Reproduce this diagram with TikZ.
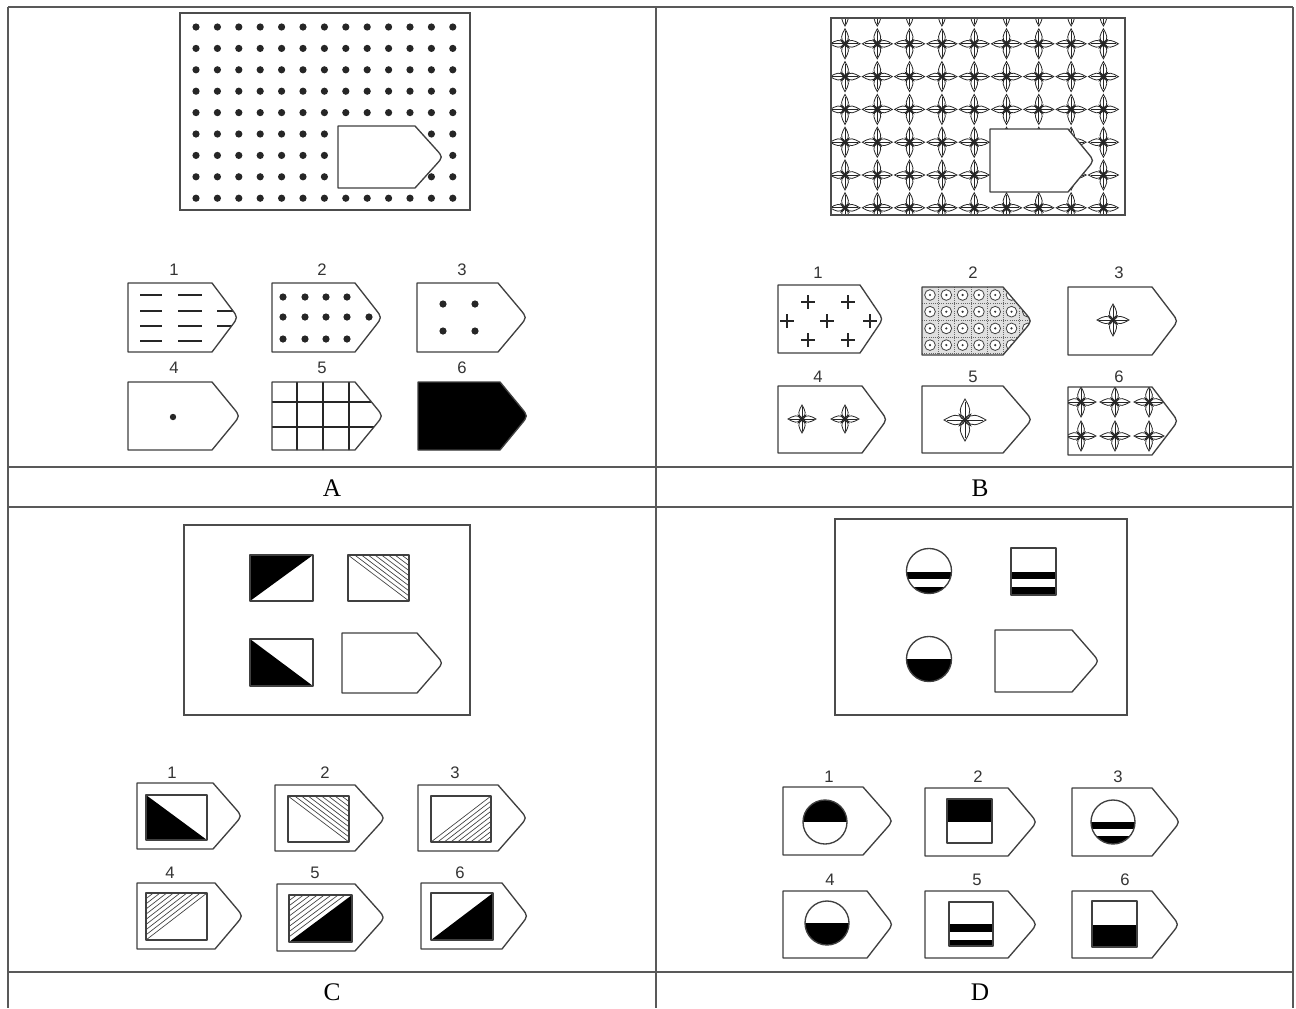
\documentclass[tikz,border=0pt]{standalone}
\usepackage{fontspec}
\setmainfont{Liberation Serif}
\newfontfamily\numfont{Liberation Sans}
\newcommand{\pentp}[5]{(#1,#2) -- (#3,#2) -- ({#3+0.75*(#4-#3)},{#2+0.75*((#5-#2)/2)}) .. controls (#4,{(#2+#5)/2}) .. ({#3+0.75*(#4-#3)},{#5-0.75*((#5-#2)/2)}) -- (#3,#5) -- (#1,#5) -- cycle}
\tikzset{
  tabline/.style={draw=black!65, line width=1.3pt},
  frame/.style={draw=black!70, line width=1.1pt},
  shp/.style={draw=black!75, line width=1pt, line join=round},
  num/.style={font=\numfont\fontsize{12.5}{13}\selectfont, text=black!80, inner sep=0pt},
  letter/.style={font=\fontsize{19}{19}\selectfont, inner sep=0pt},
  starline/.style={draw=black!85, line width=0.6pt},
  starpic/.pic={
    \foreach \a in {0,90,180,270}{
      \draw[rotate=\a, starline] (0.05,0) .. controls (0.3,0.38) and (0.62,0.22) .. (1,0) .. controls (0.62,-0.22) and (0.3,-0.38) .. (0.05,0);
      \draw[rotate=\a, starline] (0,0) -- (0.85,0);
    }
    \foreach \a in {45,135,225,315}{
      \draw[rotate=\a, starline] (0,0) .. controls (0.12,0.1) and (0.25,0.06) .. (0.38,0) .. controls (0.25,-0.06) and (0.12,-0.1) .. (0,0);
    }
    \fill[black!85] (0.1,0) -- (0,0.1) -- (-0.1,0) -- (0,-0.1) -- cycle;
  },
  hatch/.style={draw=black!75, line width=0.5pt},
  dot/.style={fill=black!85}
}
\begin{document}
\begin{tikzpicture}[x=0.75pt,y=-0.75pt]
\useasboundingbox (0,0) rectangle (1296,1008);
\fill[white] (0,0) rectangle (1296,1008);
% ---------- table
\draw[tabline] (8,7) -- (1293,7);
\draw[tabline] (8,467) -- (1293,467);
\draw[tabline] (8,507) -- (1293,507);
\draw[tabline] (8,972) -- (1293,972);
\draw[tabline] (8,7) -- (8,1008);
\draw[tabline] (656,7) -- (656,1008);
\draw[tabline] (1293,7) -- (1293,1008);
\node[letter] (labA) at (332,488) {A};
\node[letter] (labB) at (980,488) {B};
\node[letter] (labC) at (332,992) {C};
\node[letter] (labD) at (980,992) {D};

% ---------- Panel A
\draw[frame] (180,13) rectangle (470,210);
\foreach \i in {0,...,12}{\foreach \j in {0,...,8}{
  \fill[dot] ({196+21.4*\i},{27+21.4*\j}) circle (2.7pt);}}
\filldraw[shp, fill=white] \pentp{338}{126}{415}{443}{188};

% A options
\begin{scope}
\clip \pentp{128}{283}{212}{238}{352};
\foreach \y in {295,311,326,341}{
  \draw[line width=1.3pt, black!85] (140,\y) -- (162,\y);
  \draw[line width=1.3pt, black!85] (178,\y) -- (202,\y);}
\foreach \y in {311,326}{\draw[line width=1.3pt, black!85] (217,\y) -- (245,\y);}
\end{scope}
\draw[shp] \pentp{128}{283}{212}{238}{352};

\foreach \x in {283,305,326,347}{\foreach \y in {297,317,339}{\fill[dot] (\x,\y) circle (2.7pt);}}
\fill[dot] (369,317) circle (2.7pt);
\draw[shp] \pentp{272}{283}{355}{382}{352};

\foreach \x in {443,475}{\foreach \y in {304,331}{\fill[dot] (\x,\y) circle (2.7pt);}}
\draw[shp] \pentp{417}{283}{498}{527}{352};

\fill[dot] (173,417) circle (2.4pt);
\draw[shp] \pentp{128}{382}{212}{240}{450};

\begin{scope}
\clip \pentp{272}{382}{355}{383}{450};
\foreach \x in {297,323,349}{\draw[line width=0.9pt, black!85] (\x,380) -- (\x,452);}
\foreach \y in {402,427}{\draw[line width=0.9pt, black!85] (270,\y) -- (390,\y);}
\end{scope}
\draw[shp] \pentp{272}{382}{355}{383}{450};

\filldraw[shp, fill=black] \pentp{418}{382}{500}{528}{450};

\node[num] (a1) at (174,270) {1};
\node[num] (a2) at (322,270) {2};
\node[num] (a3) at (462,270) {3};
\node[num] (a4) at (174,368) {4};
\node[num] (a5) at (322,368) {5};
\node[num] (a6) at (462,368) {6};

% ---------- Panel B
\begin{scope}
\clip (831,18) rectangle (1125,215);
\foreach \i in {0,...,8}{\foreach \j in {0,...,6}{
  \pic[scale=15] at ({845+32.3*\i},{11+32.8*\j}) {starpic};}}
\end{scope}
\draw[frame] (831,18) rectangle (1125,215);
\filldraw[shp, fill=white] \pentp{990}{129}{1068}{1094}{192};

% B options
\foreach \p in {(808,302),(848,302),(787,321),(827,321),(870,321),(808,340),(848,340)}{
  \draw[line width=0.8pt, black!85] \p ++(-7,0) -- ++(14,0) \p ++(0,-7) -- ++(0,14);}
\draw[shp] \pentp{778}{285}{860}{883}{353};

\begin{scope}
\clip \pentp{922}{287}{1003}{1032}{355};
\fill[black!12] (920,285) rectangle (1035,357);
\foreach \i in {0,...,6}{\draw[line width=0.6pt, black!60, densely dotted] ({938.3+16.3*\i},285) -- ({938.3+16.3*\i},357);}
\foreach \j in {0,...,3}{\draw[line width=0.6pt, black!60, densely dotted] (920,{303.5+16.7*\j}) -- (1035,{303.5+16.7*\j});}
\foreach \i in {0,...,6}{\foreach \j in {0,...,3}{
  \filldraw[line width=0.6pt, draw=black!75, fill=white] ({930+16.3*\i},{295+16.7*\j}) circle (4pt);
  \fill[black!80] ({930+16.3*\i},{295+16.7*\j}) circle (0.9pt);}}
\end{scope}
\draw[shp] \pentp{922}{287}{1003}{1032}{355};

\pic[scale=16] at (1113,320) {starpic};
\draw[shp] \pentp{1068}{287}{1152}{1178}{355};

\pic[scale=14] at (802,419) {starpic};
\pic[scale=14] at (845,419) {starpic};
\draw[shp] \pentp{778}{386}{862}{887}{453};

\pic[scale=21] at (965,420) {starpic};
\draw[shp] \pentp{922}{386}{1003}{1032}{453};

\begin{scope}
\clip \pentp{1068}{387}{1152}{1178}{455};
\foreach \x in {1081,1115,1149}{\foreach \y in {402,436}{\pic[scale=15] at (\x,\y) {starpic};}}
\end{scope}
\draw[shp] \pentp{1068}{387}{1152}{1178}{455};

\node[num] (b1) at (818,273) {1};
\node[num] (b2) at (973,273) {2};
\node[num] (b3) at (1119,273) {3};
\node[num] (b4) at (818,377) {4};
\node[num] (b5) at (973,377) {5};
\node[num] (b6) at (1119,377) {6};

% ---------- Panel C
\draw[frame] (184,525) rectangle (470,715);
\fill[black] (250,555) -- (313,555) -- (250,601) -- cycle;
\draw[shp] (250,555) rectangle (313,601);
\foreach \t in {0.11,0.22,...,0.9}{\draw[hatch] ({348+61*\t},555) -- (409,{601-46*\t});}
\draw[hatch] (348,555) -- (409,601);
\draw[shp] (348,555) rectangle (409,601);
\fill[black] (250,639) -- (250,686) -- (313,686) -- cycle;
\draw[shp] (250,639) rectangle (313,686);
\draw[shp] \pentp{342}{633}{417}{443}{693};

% C options
\draw[shp] \pentp{137}{783}{213}{242}{849};
\fill[black] (146,795) -- (146,840) -- (207,840) -- cycle;
\draw[shp] (146,795) rectangle (207,840);

\draw[shp] \pentp{275}{785}{355}{385}{851};
\foreach \t in {0,0.11,...,0.9}{\draw[hatch] ({288+61*\t},796) -- (349,{842-46*\t});}
\draw[shp] (288,796) rectangle (349,842);

\draw[shp] \pentp{418}{785}{498}{527}{851};
\foreach \t in {0,0.11,...,0.9}{\draw[hatch] ({431+60*\t},842) -- (491,{796+46*\t});}
\draw[shp] (431,796) rectangle (491,842);

\draw[shp] \pentp{137}{883}{215}{243}{949};
\foreach \t in {0,0.11,...,0.9}{\draw[hatch] (146,{940-47*\t}) -- ({207-61*\t},893);}
\draw[shp] (146,893) rectangle (207,940);

\draw[shp] \pentp{277}{884}{355}{385}{951};
\fill[black] (289,942) -- (352,942) -- (352,895) -- cycle;
\foreach \t in {0.11,0.22,...,0.9}{\draw[hatch] (289,{942-47*\t}) -- ({352-63*\t},895);}
\draw[shp] (289,895) rectangle (352,942);

\draw[shp] \pentp{421}{883}{502}{528}{949};
\fill[black] (431,940) -- (493,940) -- (493,893) -- cycle;
\draw[shp] (431,893) rectangle (493,940);

\node[num] (c1) at (172,773) {1};
\node[num] (c2) at (325,773) {2};
\node[num] (c3) at (455,773) {3};
\node[num] (c4) at (170,873) {4};
\node[num] (c5) at (315,873) {5};
\node[num] (c6) at (460,873) {6};

% ---------- Panel D
\draw[frame] (835,519) rectangle (1127,715);
\begin{scope}
\clip (929,571) circle (16.9pt);
\fill[black] (900,572) rectangle (960,579);
\fill[black] (900,587) rectangle (960,600);
\end{scope}
\draw[shp] (929,571) circle (16.9pt);
\fill[black] (1011,572) rectangle (1056,579);
\fill[black] (1011,587) rectangle (1056,595);
\draw[shp] (1011,548) rectangle (1056,595);
\begin{scope}
\clip (929,659) circle (16.9pt);
\fill[black] (900,659) rectangle (960,690);
\end{scope}
\draw[shp] (929,659) circle (16.9pt);
\draw[shp] \pentp{995}{630}{1072}{1099}{692};

% D options
\begin{scope}
\clip (825,822) circle (16.5pt);
\fill[black] (795,795) rectangle (855,822);
\end{scope}
\draw[shp] (825,822) circle (16.5pt);
\draw[shp] \pentp{783}{787}{863}{893}{855};

\fill[black] (947,799) rectangle (992,822);
\draw[shp] (947,799) rectangle (992,843);
\draw[shp] \pentp{925}{788}{1008}{1037}{856};

\begin{scope}
\clip (1113,822) circle (16.5pt);
\fill[black] (1085,822) rectangle (1145,829);
\fill[black] (1085,836) rectangle (1145,850);
\end{scope}
\draw[shp] (1113,822) circle (16.5pt);
\draw[shp] \pentp{1072}{788}{1152}{1180}{856};

\begin{scope}
\clip (827,923) circle (16.5pt);
\fill[black] (800,923) rectangle (855,950);
\end{scope}
\draw[shp] (827,923) circle (16.5pt);
\draw[shp] \pentp{783}{891}{867}{893}{958};

\fill[black] (949,924) rectangle (993,932);
\fill[black] (949,940) rectangle (993,946);
\draw[shp] (949,902) rectangle (993,946);
\draw[shp] \pentp{925}{891}{1008}{1037}{958};

\fill[black] (1092,925) rectangle (1137,947);
\draw[shp] (1092,901) rectangle (1137,947);
\draw[shp] \pentp{1072}{891}{1152}{1179}{958};

\node[num] (d1) at (829,777) {1};
\node[num] (d2) at (978,777) {2};
\node[num] (d3) at (1118,777) {3};
\node[num] (d4) at (830,880) {4};
\node[num] (d5) at (977,880) {5};
\node[num] (d6) at (1125,880) {6};
\end{tikzpicture}
\end{document}
